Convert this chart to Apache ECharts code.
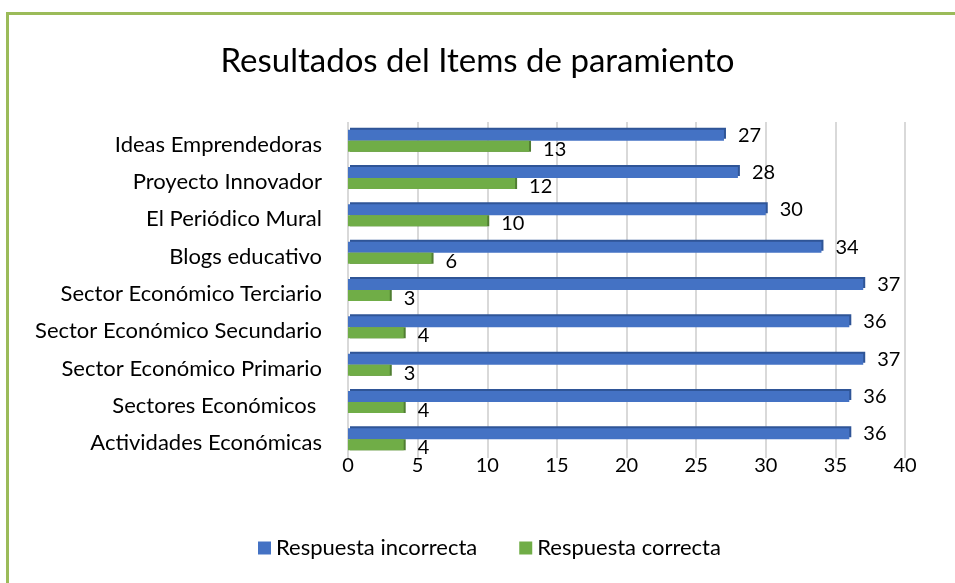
<!DOCTYPE html>
<html>
<head>
<meta charset="utf-8">
<script src="https://cdn.jsdelivr.net/npm/echarts@6/dist/echarts.min.js"></script>
<style>
  html, body { margin: 0; padding: 0; background: #fff; }
  #chart { width: 955px; height: 583px; }
  #frame { position: absolute; left: 6px; top: 12px; width: 949px; height: 571px;
           border-top: 3px solid #9BBB59; border-left: 3px solid #9BBB59; box-sizing: border-box; pointer-events: none; }
</style>
</head>
<body>
<div id="chart"></div>
<div id="frame"></div>
<script type="text/javascript">
    // top row first
    var categories = ['Ideas Emprendedoras', 'Proyecto Innovador', 'El Periódico Mural', 'Blogs educativo',
        'Sector Económico Terciario', 'Sector Económico Secundario', 'Sector Económico Primario',
        'Sectores Económicos ', 'Actividades Económicas'];
    var incorrecta = [27, 28, 30, 34, 37, 36, 37, 36, 36];
    var correcta = [13, 12, 10, 6, 3, 4, 3, 4, 4];

    var font = 'Lato';
    var chart = echarts.init(document.getElementById('chart'));
    chart.setOption({
        animation: false,
        textStyle: { fontFamily: font },
        title: {
            text: 'Resultados del Items de paramiento',
            left: 'center',
            top: 40,
            textStyle: { fontFamily: font, fontSize: 33, fontWeight: 'normal', color: '#000' }
        },
        legend: {
            bottom: 19,
            left: 253,
            itemWidth: 13,
            itemHeight: 13,
            itemGap: 42,
            icon: 'rect',
            data: ['Respuesta incorrecta', 'Respuesta correcta'],
            textStyle: { fontFamily: font, fontSize: 22, color: '#000' }
        },
        grid: { left: 348, right: 50, top: 122, bottom: 125 },
        xAxis: {
            type: 'value',
            min: 0,
            max: 40,
            interval: 5,
            axisLine: { show: false },
            axisTick: { show: false },
            axisLabel: { fontFamily: font, fontSize: 20, color: '#000', margin: -2 },
            splitLine: { lineStyle: { color: '#d9d9d9', width: 2 } }
        },
        yAxis: {
            type: 'category',
            inverse: true,
            data: categories,
            axisLine: { show: false },
            axisTick: { show: false },
            axisLabel: { fontFamily: font, fontSize: 22, color: '#000', margin: 26, verticalAlign: 'top', lineHeight: 8 }
        },
        series: [{
            name: 'Respuesta incorrecta',
            type: 'bar',
            data: incorrecta,
            barWidth: 11,
            barGap: '0%',
            barCategoryGap: '40%',
            itemStyle: { color: '#4472C4', shadowColor: '#2F5597', shadowOffsetX: 2, shadowOffsetY: -2, shadowBlur: 0 },
            label: { show: true, position: 'right', distance: 14, fontFamily: font, fontSize: 20, color: '#000' }
        }, {
            name: 'Respuesta correcta',
            type: 'bar',
            data: correcta,
            barWidth: 11,
            itemStyle: { color: '#70AD47', shadowColor: '#507E32', shadowOffsetX: 2, shadowOffsetY: 0, shadowBlur: 0 },
            label: { show: true, position: 'right', distance: 14, offset: [0, 3], fontFamily: font, fontSize: 20, color: '#000' }
        }]
    });
</script>
</body>
</html>
